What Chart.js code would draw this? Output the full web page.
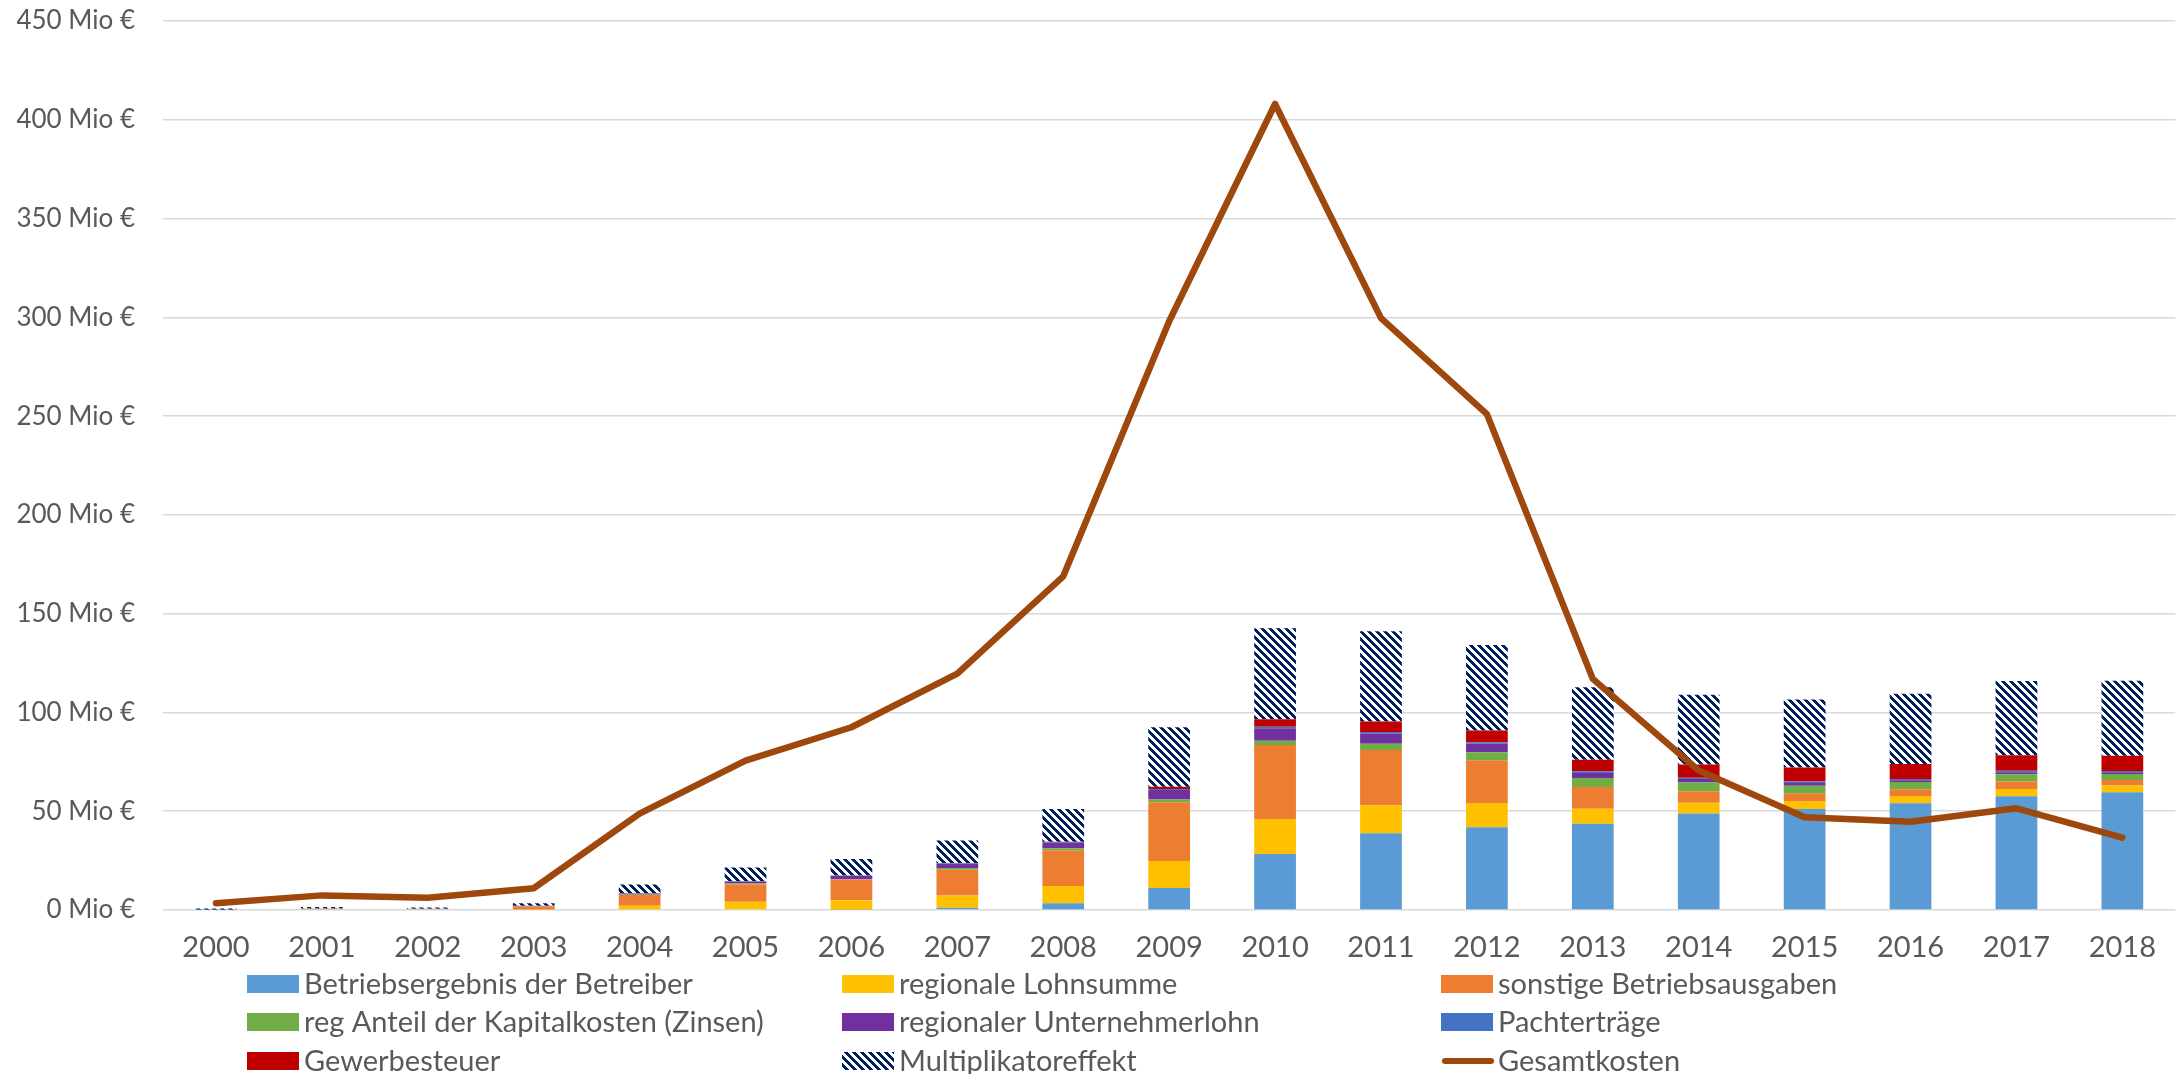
<!DOCTYPE html>
<html>
<head>
<meta charset="utf-8">
<script src="https://cdn.jsdelivr.net/npm/chart.js@4.4.0/dist/chart.umd.min.js"></script>
<style>
  html, body { margin: 0; padding: 0; background: #fff; }
  #wrap { width: 2176px; height: 1074px; }
</style>
</head>
<body>
<div id="wrap"><canvas id="chart"></canvas></div>
<script>
// values in Mio €
const years = ['2000','2001','2002','2003','2004','2005','2006','2007','2008','2009','2010','2011','2012','2013','2014','2015','2016','2017','2018'];
const betriebsergebnis = [0, 0, 0, 0, 0, 0, 0.2, 1.2, 3.4, 11.1, 28.4, 38.8, 41.9, 43.7, 48.9, 51.1, 54.0, 57.6, 59.6];
const lohnsumme = [0, 0, 0, 0.3, 2.2, 4.2, 4.7, 6.1, 8.7, 13.7, 17.7, 14.2, 12.3, 7.6, 5.4, 4.1, 3.7, 3.7, 3.4];
const sonstige = [0, 0.6, 0.5, 1.5, 5.4, 8.7, 10.5, 13.1, 18.2, 29.7, 37.4, 28.0, 21.6, 11.0, 5.8, 3.7, 3.4, 3.7, 2.8];
const kapitalkosten = [0, 0, 0, 0.1, 0.2, 0.5, 0.2, 0.8, 0.9, 1.4, 2.2, 3.2, 4.0, 4.5, 4.5, 4.0, 3.7, 3.7, 3.1];
const unternehmerlohn = [0, 0, 0, 0.2, 0.6, 1.0, 1.7, 2.2, 2.7, 4.9, 6.3, 5.1, 4.3, 2.6, 1.7, 1.4, 0.9, 1.0, 0.8];
const pachtertraege = [0.1, 0.1, 0.1, 0.1, 0.1, 0.1, 0.2, 0.3, 0.4, 0.5, 0.8, 0.8, 0.8, 0.8, 0.7, 0.7, 0.6, 0.8, 0.7];
const gewerbesteuer = [0, 0, 0, 0, 0, 0, 0, 0.1, 0.2, 1.1, 3.7, 5.3, 5.9, 5.9, 6.6, 7.1, 7.6, 7.8, 7.7];
const multiplikator = [0.6, 0.8, 0.7, 1.2, 4.4, 7.0, 8.3, 11.4, 16.6, 30.1, 46.1, 45.7, 43.4, 36.6, 35.3, 34.4, 35.6, 37.6, 38.0];
const gesamtkosten = [3.4, 7.4, 6.2, 11.0, 48.8, 75.6, 92.5, 119.6, 168.9, 298, 408, 299.6, 251, 117, 70.6, 46.9, 44.7, 51.5, 36.6];

const textColor = '#595959';
Chart.defaults.font.family = 'Lato';
Chart.defaults.font.size = 26;
Chart.defaults.color = textColor;

const ctx = document.getElementById('chart').getContext('2d');

// navy "wide downward diagonal" hatch
function makeHatch() {
    const c = document.createElement('canvas');
    c.width = 8; c.height = 8;
    const g = c.getContext('2d');
    g.fillStyle = '#ffffff';
    g.fillRect(0, 0, 8, 8);
    g.fillStyle = '#002060';
    for (let y = 0; y < 8; y++) {
        for (let x = 0; x < 8; x++) {
            if (((x - y) % 8 + 8) % 8 < 4) g.fillRect(x, y, 1, 1);
        }
    }
    return ctx.createPattern(c, 'repeat');
}
const hatch = makeHatch();

function bar(label, data, color) {
    return {
        type: 'bar',
        label: label,
        data: data,
        backgroundColor: color,
        stack: 'bars',
        order: 1,
        barPercentage: 0.394,
        categoryPercentage: 1
    };
}

// legend as a 3x3 grid like the original
const gridLegend = {
    id: 'gridLegend',
    afterDraw(chart) {
        const c = chart.ctx;
        const cols = [247, 842, 1441];
        const rows = [984, 1022, 1061];
        c.save();
        c.font = '29px Lato';
        c.textBaseline = 'middle';
        chart.data.datasets.forEach((ds, i) => {
            const x = cols[i % 3];
            const y = rows[Math.floor(i / 3)];
            if (ds.type === 'line') {
                c.strokeStyle = ds.borderColor;
                c.lineWidth = 6;
                c.lineCap = 'round';
                c.beginPath();
                c.moveTo(x + 4, y);
                c.lineTo(x + 50, y);
                c.stroke();
            } else {
                c.fillStyle = ds.backgroundColor;
                c.fillRect(x, y - 9, 52, 18);
            }
            c.fillStyle = textColor;
            c.fillText(ds.label, x + 57, y + 1);
        });
        c.restore();
    }
};

const dataChart = new Chart(ctx, {
    data: {
        labels: years,
        datasets: [
            bar('Betriebsergebnis der Betreiber', betriebsergebnis, '#5B9BD5'),
            bar('regionale Lohnsumme', lohnsumme, '#FFC000'),
            bar('sonstige Betriebsausgaben', sonstige, '#ED7D31'),
            bar('reg Anteil der Kapitalkosten (Zinsen)', kapitalkosten, '#70AD47'),
            bar('regionaler Unternehmerlohn', unternehmerlohn, '#7030A0'),
            bar('Pachterträge', pachtertraege, '#4472C4'),
            bar('Gewerbesteuer', gewerbesteuer, '#C00000'),
            bar('Multiplikatoreffekt', multiplikator, hatch),
            {
                type: 'line',
                label: 'Gesamtkosten',
                data: gesamtkosten,
                borderColor: '#9E480E',
                backgroundColor: '#9E480E',
                borderWidth: 6.5,
                borderCapStyle: 'round',
                borderJoinStyle: 'round',
                pointRadius: 0,
                tension: 0,
                stack: 'line',
                order: 0
            }
        ]
    },
    options: {
        responsive: true,
        maintainAspectRatio: false,
        animation: false,
        layout: { padding: { top: 21, right: 0, bottom: 0, left: 0 } },
        plugins: {
            legend: { display: false },
            tooltip: { enabled: false }
        },
        scales: {
            x: {
                stacked: true,
                grid: { display: false, drawTicks: false },
                border: { display: false },
                ticks: { padding: 20, maxRotation: 0, autoSkip: false, font: { size: 29 } },
                afterFit: (scale) => { scale.height = 164; }
            },
            y: {
                stacked: true,
                min: 0,
                max: 450,
                grid: { color: '#D9D9D9', lineWidth: 1.5, drawTicks: false },
                border: { display: false },
                ticks: {
                    stepSize: 50,
                    padding: 28,
                    callback: (v) => v + ' Mio €'
                },
                afterFit: (scale) => {
                    scale.width = 163;
                    scale.paddingTop = 0;
                    scale.paddingBottom = 0;
                }
            }
        }
    },
    plugins: [gridLegend]
});
</script>
</body>
</html>
